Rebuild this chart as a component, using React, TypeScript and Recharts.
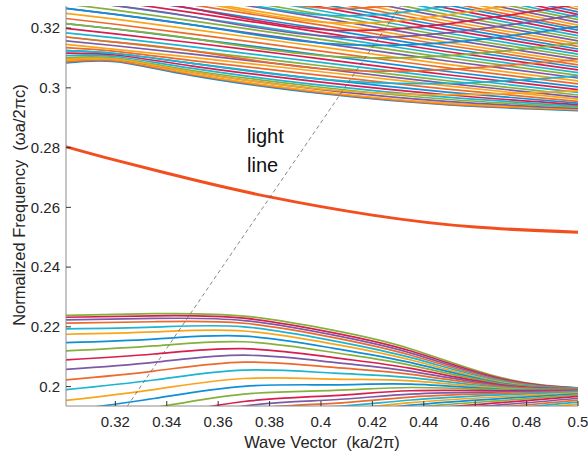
import { LineChart, Line, XAxis, YAxis } from "recharts";

// k grid for the bands above the gap
const upperK = [0.3, 0.32, 0.35, 0.4, 0.45, 0.5];

// bands above the gap that fall with k (bottom to top)
const upperFalling = [
  [0.3083, 0.3088, 0.3041, 0.2981, 0.2943, 0.2924],
  [0.3086, 0.309, 0.3044, 0.2984, 0.2945, 0.2926],
  [0.309, 0.3094, 0.3047, 0.2987, 0.2948, 0.2928],
  [0.3095, 0.3096, 0.3053, 0.2994, 0.2954, 0.2931],
  [0.3101, 0.31, 0.3058, 0.3002, 0.2961, 0.2935],
  [0.3108, 0.3105, 0.3065, 0.3009, 0.2968, 0.2939],
  [0.3116, 0.311, 0.3073, 0.3019, 0.2976, 0.2944],
  [0.3125, 0.3115, 0.3082, 0.3029, 0.2985, 0.2949],
  [0.3135, 0.3122, 0.3091, 0.3042, 0.2995, 0.2955],
  [0.3146, 0.3129, 0.3102, 0.3054, 0.3006, 0.2962],
  [0.3158, 0.3141, 0.3113, 0.3064, 0.3014, 0.2969],
  [0.3171, 0.3153, 0.3124, 0.3074, 0.3023, 0.2976],
  [0.3185, 0.3167, 0.3137, 0.3085, 0.3033, 0.2985],
  [0.32, 0.3181, 0.3151, 0.3097, 0.3043, 0.2994],
  [0.3216, 0.3197, 0.3165, 0.311, 0.3054, 0.3003],
  [0.3233, 0.3213, 0.318, 0.3123, 0.3066, 0.3013],
  [0.325, 0.323, 0.3196, 0.3137, 0.3078, 0.3023],
  [0.3267, 0.3246, 0.3211, 0.315, 0.3089, 0.3033],
  [0.3282, 0.326, 0.3224, 0.3162, 0.31, 0.3042],
  [0.3297, 0.3275, 0.3238, 0.3174, 0.311, 0.3051],
  [0.3312, 0.3289, 0.3252, 0.3186, 0.312, 0.306],
  [0.3327, 0.3304, 0.3265, 0.3198, 0.3131, 0.3069],
  [0.3342, 0.3318, 0.3278, 0.321, 0.3141, 0.3077],
  [0.3357, 0.3333, 0.3292, 0.3222, 0.3151, 0.3086],
  [0.3372, 0.3347, 0.3306, 0.3234, 0.3162, 0.3095],
  [0.3387, 0.3361, 0.3319, 0.3246, 0.3172, 0.3104],
  [0.3402, 0.3376, 0.3333, 0.3258, 0.3182, 0.3113],
  [0.3417, 0.339, 0.3346, 0.327, 0.3193, 0.3122],
  [0.3432, 0.3405, 0.336, 0.3281, 0.3203, 0.313],
  [0.3447, 0.3419, 0.3373, 0.3293, 0.3213, 0.3139],
  [0.3462, 0.3434, 0.3387, 0.3305, 0.3223, 0.3148],
  [0.3477, 0.3448, 0.34, 0.3317, 0.3234, 0.3157],
  [0.3492, 0.3463, 0.3414, 0.3329, 0.3244, 0.3166],
  [0.3507, 0.3477, 0.3427, 0.3341, 0.3255, 0.3175],
  [0.3522, 0.3492, 0.3441, 0.3353, 0.3265, 0.3184],
  [0.3537, 0.3506, 0.3454, 0.3365, 0.3276, 0.3193],
  [0.3552, 0.352, 0.3468, 0.3377, 0.3285, 0.3201],
  [0.3567, 0.3535, 0.3481, 0.3389, 0.3296, 0.321],
  [0.3582, 0.3549, 0.3495, 0.3401, 0.3306, 0.3219],
  [0.3597, 0.3564, 0.3508, 0.3413, 0.3317, 0.3228],
  [0.3612, 0.3578, 0.3522, 0.3425, 0.3327, 0.3237],
  [0.3627, 0.3593, 0.3536, 0.3437, 0.3337, 0.3246],
  [0.3642, 0.3607, 0.3549, 0.3448, 0.3347, 0.3254],
  [0.3657, 0.3622, 0.3562, 0.346, 0.3358, 0.3263],
  [0.3672, 0.3636, 0.3576, 0.3472, 0.3368, 0.3272],
];

// bands above the gap that fall first and turn upward on the right
const upperRising = [
  [0.3095, 0.3096, 0.3053, 0.2996, 0.2977, 0.299],
  [0.3125, 0.3115, 0.3082, 0.3029, 0.3015, 0.304],
  [0.3171, 0.3153, 0.3124, 0.3064, 0.3062, 0.3095],
  [0.3216, 0.3197, 0.3165, 0.3108, 0.3108, 0.315],
  [0.3267, 0.3246, 0.3211, 0.315, 0.3152, 0.3205],
  [0.3297, 0.3275, 0.3238, 0.3174, 0.3185, 0.3245],
  [0.3327, 0.3304, 0.3265, 0.3196, 0.3215, 0.328],
  [0.3357, 0.3333, 0.3292, 0.322, 0.3245, 0.3315],
  [0.3387, 0.3361, 0.3319, 0.3244, 0.3275, 0.335],
  [0.3417, 0.339, 0.3346, 0.3268, 0.3305, 0.3385],
  [0.3447, 0.3419, 0.3373, 0.3292, 0.3335, 0.342],
];

// k grid for the bands below the gap
const lowerK = [0.3, 0.335, 0.37, 0.405, 0.435, 0.47, 0.5];

// bands below the gap (top to bottom)
const lowerBands = [
  [0.2238, 0.2244, 0.2236, 0.2188, 0.2126, 0.203, 0.1996],
  [0.2232, 0.2237, 0.2229, 0.218, 0.2119, 0.2027, 0.1995],
  [0.2223, 0.2228, 0.2221, 0.2172, 0.2112, 0.2024, 0.1995],
  [0.2212, 0.2217, 0.2212, 0.2164, 0.2105, 0.2021, 0.1994],
  [0.2193, 0.2199, 0.22, 0.2153, 0.2097, 0.2018, 0.1994],
  [0.2175, 0.2183, 0.2186, 0.2142, 0.2089, 0.2015, 0.1993],
  [0.2147, 0.2159, 0.2169, 0.2128, 0.208, 0.2012, 0.1993],
  [0.2119, 0.2136, 0.215, 0.2114, 0.2071, 0.2009, 0.1992],
  [0.2089, 0.2109, 0.2127, 0.2097, 0.2061, 0.2006, 0.1992],
  [0.2057, 0.2081, 0.2105, 0.2081, 0.2051, 0.2003, 0.1991],
  [0.2022, 0.2052, 0.2082, 0.2064, 0.2041, 0.2, 0.1991],
  [0.1989, 0.2022, 0.2055, 0.2045, 0.203, 0.1997, 0.199],
  [0.1953, 0.199, 0.2027, 0.2025, 0.2019, 0.1994, 0.199],
  [0.1918, 0.196, 0.2001, 0.2006, 0.2008, 0.1991, 0.1989],
  [0.1883, 0.1929, 0.1975, 0.1987, 0.1997, 0.1989, 0.1988],
  [0.1848, 0.1898, 0.195, 0.197, 0.1986, 0.1986, 0.1987],
  [0.1815, 0.1872, 0.1935, 0.1956, 0.1975, 0.1982, 0.1986],
  [0.179, 0.1853, 0.1922, 0.1944, 0.1965, 0.1977, 0.1984],
  [0.177, 0.1838, 0.191, 0.1933, 0.1955, 0.1972, 0.1982],
  [0.1752, 0.1823, 0.1898, 0.1922, 0.1946, 0.1966, 0.1979],
  [0.1735, 0.1809, 0.1887, 0.1912, 0.1938, 0.196, 0.1976],
  [0.172, 0.1796, 0.1876, 0.1903, 0.193, 0.1953, 0.1972],
  [0.1706, 0.1784, 0.1866, 0.1894, 0.1922, 0.1946, 0.1967],
  [0.1693, 0.1773, 0.1857, 0.1886, 0.1915, 0.1939, 0.1961],
  [0.1681, 0.1762, 0.1848, 0.1878, 0.1908, 0.1932, 0.1955],
  [0.167, 0.1752, 0.184, 0.1871, 0.1901, 0.1925, 0.1948],
  [0.166, 0.1743, 0.1832, 0.1864, 0.1894, 0.1918, 0.1941],
];

// guided mode inside the gap
const guidedK = [0.3, 0.32, 0.35, 0.38, 0.42, 0.46, 0.5];
const guidedF = [0.2805, 0.2758, 0.2693, 0.2635, 0.2574, 0.2534, 0.2517];

// light line
const lightK = [0.32, 0.44];
const lightF = [0.1876, 0.3388];

const xTicks = [0.32, 0.34, 0.36, 0.38, 0.4, 0.42, 0.44, 0.46, 0.48, 0.5];
const yTicks = [0.2, 0.22, 0.24, 0.26, 0.28, 0.3, 0.32];

const UPPER_COLORS = ["#0f8fd6", "#ec6a2c", "#f9a51a", "#7d5aa6", "#86b03c", "#1cb4d0", "#d81e4f"];
const LOWER_COLORS = ["#86b03c", "#d81e4f", "#7d5aa6", "#ec6a2c", "#1cb4d0", "#f9a51a", "#0f8fd6"];

const FONT = "'Liberation Sans', Arial, Helvetica, sans-serif";
const AXIS = "#8c8c8c";
const TICK = "#333333";

function points(ks: number[], fs: number[]) {
  return ks.map((k, i) => ({ k, f: fs[i] }));
}

const fmt = (v: number) => String(Number(v.toFixed(2)));

export default function App() {
  const tickStyle = { fontSize: 15, fill: "#262626", fontFamily: FONT };
  return (
    <div style={{ position: "absolute", left: 0, top: 0, width: 588, height: 454, background: "#fff" }}>
      <LineChart width={588} height={454} margin={{ top: 6, right: 10, bottom: 0, left: 0 }}>
        <XAxis
          xAxisId="b"
          dataKey="k"
          type="number"
          domain={[0.3008, 0.5]}
          allowDataOverflow
          ticks={xTicks}
          tickFormatter={fmt}
          height={48}
          tickSize={-5}
          tickMargin={15}
          tick={tickStyle}
          axisLine={{ stroke: AXIS }}
          tickLine={{ stroke: TICK }}
        />
        <XAxis
          xAxisId="t"
          orientation="top"
          dataKey="k"
          type="number"
          domain={[0.3008, 0.5]}
          allowDataOverflow
          ticks={xTicks}
          height={0}
          tickSize={-5}
          tick={false}
          axisLine={{ stroke: AXIS }}
          tickLine={{ stroke: TICK }}
        />
        <YAxis
          yAxisId="l"
          type="number"
          domain={[0.1935, 0.3274]}
          allowDataOverflow
          ticks={yTicks}
          tickFormatter={fmt}
          width={66}
          tickSize={-5}
          tickMargin={11}
          tick={tickStyle}
          axisLine={{ stroke: AXIS }}
          tickLine={{ stroke: TICK }}
        />
        <YAxis
          yAxisId="r"
          orientation="right"
          type="number"
          domain={[0.1935, 0.3274]}
          allowDataOverflow
          ticks={yTicks}
          width={0}
          tickSize={-5}
          tick={false}
          axisLine={{ stroke: AXIS }}
          tickLine={{ stroke: TICK }}
        />
        {upperFalling.map((row, i) => (
          <Line
            key={`uf${i}`}
            xAxisId="b"
            yAxisId="l"
            data={points(upperK, row)}
            dataKey="f"
            type="natural"
            stroke={UPPER_COLORS[i % 7]}
            strokeWidth={1.7}
            dot={false}
            activeDot={false}
            isAnimationActive={false}
          />
        ))}
        {upperRising.map((row, i) => (
          <Line
            key={`ur${i}`}
            xAxisId="b"
            yAxisId="l"
            data={points(upperK, row)}
            dataKey="f"
            type="natural"
            stroke={UPPER_COLORS[(i * 3 + 2) % 7]}
            strokeWidth={1.7}
            dot={false}
            activeDot={false}
            isAnimationActive={false}
          />
        ))}
        {lowerBands.map((row, i) => (
          <Line
            key={`lb${i}`}
            xAxisId="b"
            yAxisId="l"
            data={points(lowerK, row)}
            dataKey="f"
            type="natural"
            stroke={LOWER_COLORS[i % 7]}
            strokeWidth={1.7}
            dot={false}
            activeDot={false}
            isAnimationActive={false}
          />
        ))}
        <Line
          xAxisId="b"
          yAxisId="l"
          data={points(guidedK, guidedF)}
          dataKey="f"
          type="natural"
          stroke="#f24e1e"
          strokeWidth={3}
          dot={false}
          activeDot={false}
          isAnimationActive={false}
        />
        <Line
          xAxisId="b"
          yAxisId="l"
          data={points(lightK, lightF)}
          dataKey="f"
          type="linear"
          stroke="#555555"
          strokeWidth={0.7}
          strokeDasharray="4 3"
          dot={false}
          activeDot={false}
          isAnimationActive={false}
        />
      </LineChart>
      <svg
        width={588}
        height={454}
        style={{ position: "absolute", left: 0, top: 0, pointerEvents: "none" }}
        fontFamily={FONT}
      >
        <text x={322} y={448} textAnchor="middle" fontSize={16.5} fill="#262626">
          Wave Vector{"\u00a0\u00a0"}(ka/2π)
        </text>
        <text
          transform="rotate(-90)"
          x={-205}
          y={25}
          textAnchor="middle"
          fontSize={16.5}
          fill="#262626"
        >
          Normalized Frequency{"\u00a0\u00a0"}(ωa/2πc)
        </text>
        <text x={247} y={143} fontSize={20} fill="#111">
          light
        </text>
        <text x={247} y={172} fontSize={20} fill="#111">
          line
        </text>
      </svg>
    </div>
  );
}
